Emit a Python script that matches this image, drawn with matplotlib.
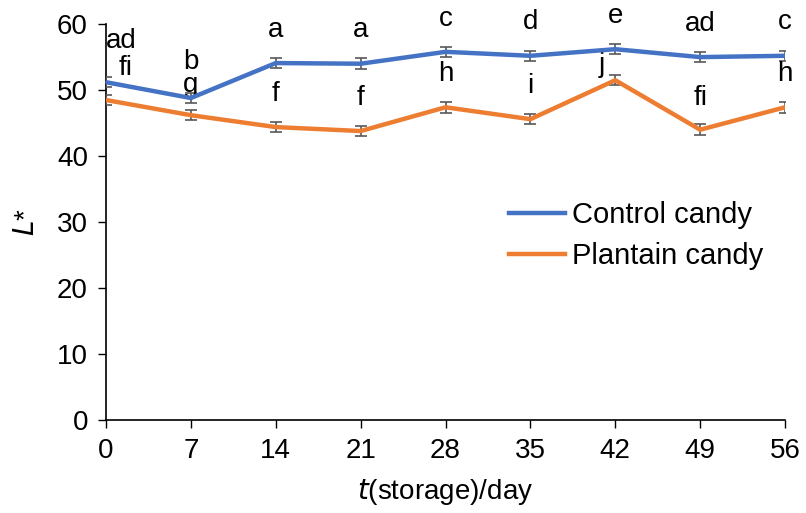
import numpy as np
import matplotlib.pyplot as plt
from matplotlib.lines import Line2D

plt.rcParams['font.family'] = ['Liberation Sans', 'DejaVu Sans']

days = [0, 7, 14, 21, 28, 35, 42, 49, 56]
control = [51.2, 48.8, 54.1, 54.0, 55.8, 55.2, 56.2, 55.0, 55.2]
plantain = [48.5, 46.2, 44.4, 43.8, 47.4, 45.6, 51.5, 44.0, 47.4]
control_err = [0.8, 0.8, 0.8, 0.8, 0.8, 0.8, 0.8, 0.8, 0.8]
plantain_err = [0.8, 0.8, 0.8, 0.8, 0.8, 0.8, 0.8, 0.8, 0.8]
control_letters = ['ad', 'b', 'a', 'a', 'c', 'd', 'e', 'ad', 'c']
plantain_letters = ['fi', 'g', 'f', 'f', 'h', 'i', 'j', 'fi', 'h']

blue = '#4472C4'
orange = '#ED7D31'
fs = 20

fig = plt.figure(figsize=(8.06, 5.13), dpi=100)
ax = fig.add_axes([0.1315, 0.181, 0.8425, 0.772])

ax.errorbar(days, control, yerr=control_err, color=blue, lw=3.2,
            ecolor='#595959', elinewidth=1.2, capsize=4, capthick=1.2, zorder=3)
ax.errorbar(days, plantain, yerr=plantain_err, color=orange, lw=3.2,
            ecolor='#595959', elinewidth=1.2, capsize=4, capthick=1.2, zorder=3)

# letters sit ~24 pt above each point; a few are nudged
c_off = [(11, 30), (0, 26)] + [(0, 24)] * 7
p_off = [(0, 0), (0, 22), (0, 24), (0, 24), (0, 24), (0, 24), (-10, 11), (0, 23), (0, 24)]

for i, d in enumerate(days):
    ax.annotate(control_letters[i], (d, control[i]), xytext=c_off[i],
                textcoords='offset points', ha='center', va='center', fontsize=fs)
    if i == 0:
        ax.annotate(plantain_letters[i], (d, control[i]), xytext=(14, 10),
                    textcoords='offset points', ha='center', va='center', fontsize=fs,
                    arrowprops=dict(arrowstyle='-', color='#A6A6A6', lw=1,
                                    shrinkA=8, shrinkB=0))
    else:
        ax.annotate(plantain_letters[i], (d, plantain[i]), xytext=p_off[i],
                    textcoords='offset points', ha='center', va='center', fontsize=fs)

ax.set_xlim(0, 56)
ax.set_ylim(0, 60)
ax.set_xticks(days)
ax.set_yticks(np.arange(0, 61, 10))
ax.tick_params(labelsize=fs, direction='out', length=6, width=1, pad=7)
ax.spines['top'].set_visible(False)
ax.spines['right'].set_visible(False)
ax.spines['left'].set_linewidth(1.2)
ax.spines['bottom'].set_linewidth(1.2)

ax.set_xlabel('$\\mathit{t}$(storage)/day', fontsize=fs, labelpad=9)
ax.set_ylabel('$\\mathit{L}$*', fontsize=fs, labelpad=12)

handles = [Line2D([], [], color=blue, lw=3.2), Line2D([], [], color=orange, lw=3.2)]
ax.legend(handles, ['Control candy', 'Plantain candy'], loc='center left',
          bbox_to_anchor=(0.577, 0.466), frameon=False, fontsize=21,
          handlelength=1.9, handletextpad=0.25, labelspacing=0.45, borderaxespad=0)

fig.savefig('out.png', dpi=100)
